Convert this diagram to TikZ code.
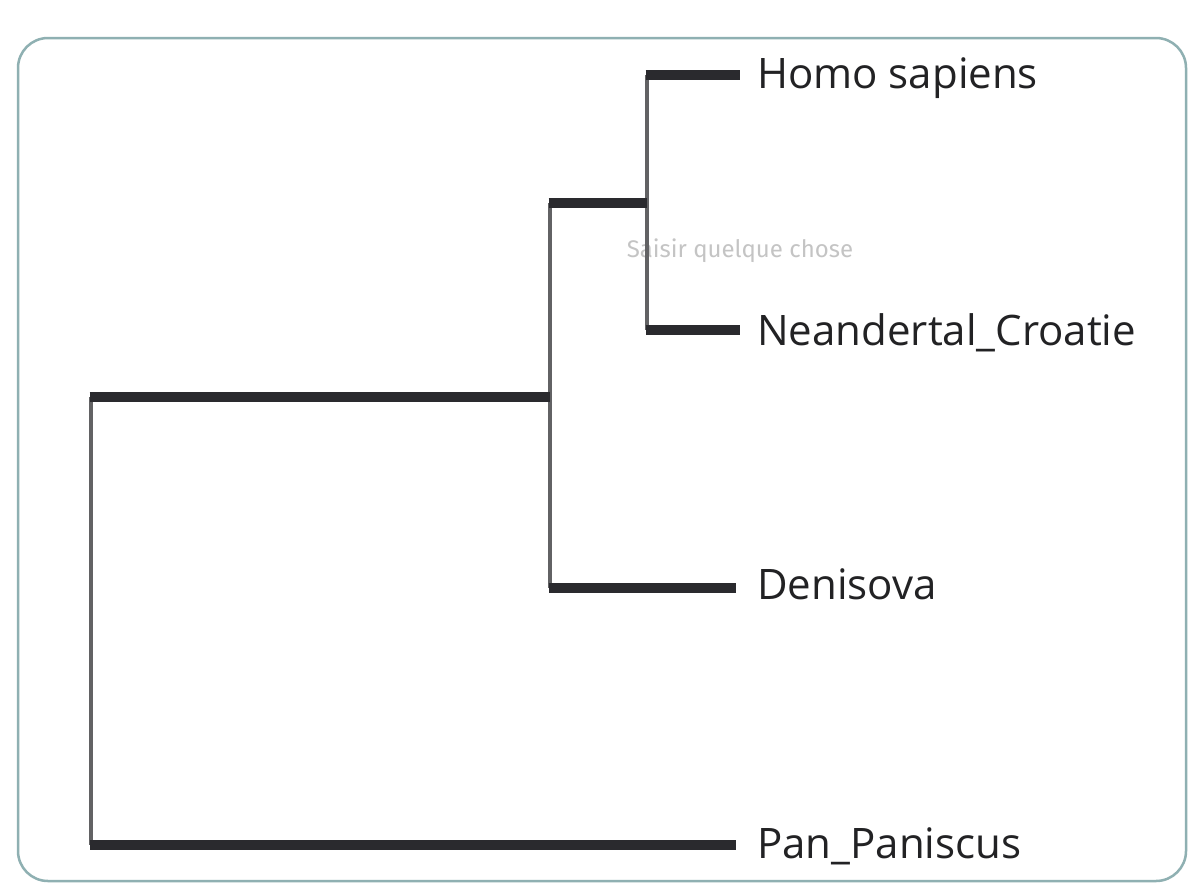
\documentclass[tikz,border=0pt]{standalone}
\usepackage{fontspec}
\setmainfont{Open Sans}
\newfontfamily\hintfont{Fira Sans}
\definecolor{frame}{HTML}{8FB0B2}
\definecolor{branch}{HTML}{2A2A2E}
\definecolor{stem}{HTML}{626264}
\definecolor{hint}{HTML}{C4C4C4}
\definecolor{labeltext}{HTML}{222224}
\begin{document}
\begin{tikzpicture}[x=1pt,y=-1pt,
  hbranch/.style={draw=branch,line width=9.5pt},
  vstem/.style={draw=stem,line width=3.5pt},
  taxon/.style={anchor=base west,inner sep=0pt,font=\fontsize{42}{48}\selectfont,text=labeltext},
  hinttext/.style={inner sep=0pt,font=\hintfont\fontsize{24}{28}\selectfont,text=hint}]
\useasboundingbox[fill=white] (0,0) rectangle (1188,894);
\draw[frame,line width=2.5pt,rounded corners=30pt] (18,38) rectangle (1186,881);
% labels
\node[taxon] (homo) at (757,88) {Homo sapiens};
\node[taxon] (nean) at (757,345) {Neandertal\_Croatie};
\node[taxon] (deni) at (757,599) {Denisova};
\node[taxon] (pan) at (757,858) {Pan\_Paniscus};
\node[hinttext] (hint) at (740,251) {Saisir quelque chose};
% internal coordinates
\coordinate (root) at (91,397);
\coordinate (hn) at (647,203);
\coordinate (hnd) at (550,397);
\coordinate (homoTip) at (740,75);
\coordinate (neanTip) at (740,330);
\coordinate (deniTip) at (736,588);
\coordinate (panTip) at (736,845);
% verticals
\draw[vstem] (root |- hnd) -- (root |- panTip);
\draw[vstem] (hnd |- hn) -- (hnd |- deniTip);
\draw[vstem] (hn |- homoTip) -- (hn |- neanTip);
% horizontals
\draw[hbranch] ([xshift=-1.5pt]root) -- (hnd);
\draw[hbranch] ([xshift=-1.5pt]root |- panTip) -- (panTip);
\draw[hbranch] ([xshift=-1.5pt]hnd |- hn) -- (hn);
\draw[hbranch] ([xshift=-1.5pt]hnd |- deniTip) -- (deniTip);
\draw[hbranch] ([xshift=-1.5pt]hn |- homoTip) -- (homoTip);
\draw[hbranch] ([xshift=-1.5pt]hn |- neanTip) -- (neanTip);
\end{tikzpicture}
\end{document}
